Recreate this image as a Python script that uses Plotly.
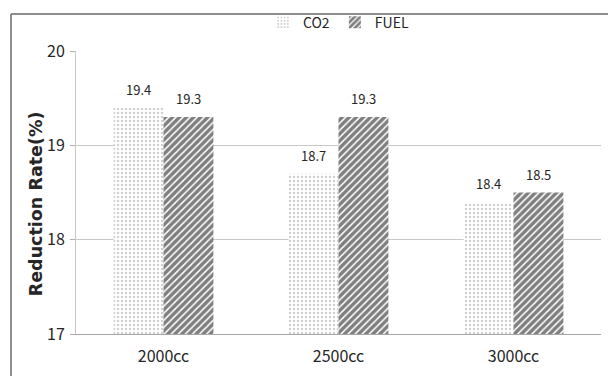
import plotly.graph_objects as go

categories = ["2000cc", "2500cc", "3000cc"]
co2_values = [19.4, 18.7, 18.4]
fuel_values = [19.3, 19.3, 18.5]
y_ticks = [17, 18, 19, 20]

W, H = 608, 376
L, R, T, B = 76, 7, 44, 42
pw, ph = W - L - R, H - T - B
BAR_PX = 50  # rendered width of one bar, used to centre the value labels


def px_x(p):
    return (p - L) / pw


def px_y(p):
    return (H - B - p) / ph


narrow = "Noto Sans CJK KR, Noto Sans, sans-serif"
tick_font = dict(family=narrow, size=16, color="#262626")
label_font = dict(family=narrow, size=13, color="#262626")

fig = go.Figure()
fig.add_trace(go.Bar(
    name="CO2", x=categories, y=co2_values,
    marker=dict(color="white", line=dict(width=0),
                pattern=dict(shape=".", fgcolor="#a0a0a0", bgcolor="white",
                             size=4, solidity=0.3)),
))
fig.add_trace(go.Bar(
    name="FUEL", x=categories, y=fuel_values,
    marker=dict(color="white", line=dict(width=0),
                pattern=dict(shape="/", fgcolor="#000000", bgcolor="white",
                             size=5, solidity=0.7)),
))

# value labels above each bar
value_labels = []
for series, shift in ((co2_values, -BAR_PX / 2), (fuel_values, BAR_PX / 2)):
    for cat, v in zip(categories, series):
        value_labels.append(dict(
            x=cat, y=v, xref="x", yref="y", text=f"{v:.1f}", showarrow=False,
            xshift=shift, yshift=7, yanchor="bottom", xanchor="center",
            font=label_font))

# outer frame around the whole chart
frame = [
    dict(type="line", xref="paper", yref="paper",
         x0=px_x(11), x1=px_x(640), y0=px_y(6), y1=px_y(6),
         line=dict(color="#6a6a6a", width=1.5)),
    dict(type="line", xref="paper", yref="paper",
         x0=px_x(11), x1=px_x(11), y0=px_y(6), y1=px_y(400),
         line=dict(color="#6a6a6a", width=1.5)),
]

fig.update_layout(
    width=W, height=H,
    margin=dict(l=L, r=R, t=T, b=B, pad=0),
    paper_bgcolor="white", plot_bgcolor="white",
    barmode="group", bargap=0.43, bargroupgap=0,
    showlegend=True,
    legend=dict(orientation="h", x=0.5, xanchor="center", y=px_y(15), yanchor="middle",
                font=dict(family=narrow, size=14, color="#262626"),
                itemwidth=30, traceorder="normal", bgcolor="rgba(0,0,0,0)"),
    xaxis=dict(showgrid=False, showline=True, linecolor="#a6a6a6", linewidth=1,
               ticks="", tickfont=tick_font, ticklabelstandoff=8),
    yaxis=dict(range=[17, 20], tickvals=y_ticks, showgrid=True, gridcolor="#c8c8c8",
               gridwidth=1, showline=True, linecolor="#c8c8c8", linewidth=1,
               zeroline=False, ticks="outside", ticklen=5, tickcolor="#b0b0b0",
               tickfont=tick_font, ticklabelstandoff=2),
    annotations=value_labels + [dict(
        text="<b>Reduction Rate(%)</b>", textangle=-90,
        xref="paper", yref="paper", x=px_x(36), y=px_y(200),
        xanchor="center", yanchor="middle", showarrow=False,
        font=dict(family="DejaVu Sans, sans-serif", size=17.5, color="#262626"))],
    shapes=frame,
)

fig.write_html("out.html")
